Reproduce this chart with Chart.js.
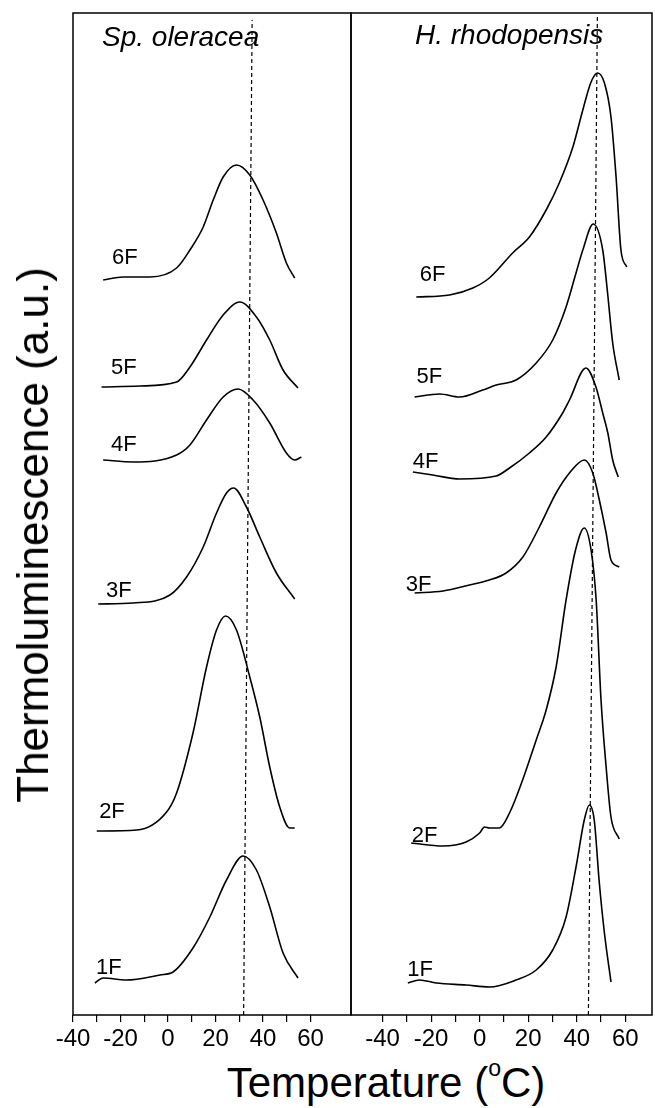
<!DOCTYPE html>
<html>
<head>
<meta charset="utf-8">
<script src="https://cdn.jsdelivr.net/npm/chart.js@4.4.1/dist/chart.umd.min.js"></script>
<style>
  html, body { margin: 0; padding: 0; background: #fff; overflow: hidden; }
  #wrap { position: relative; width: 655px; height: 1108px; }
  canvas { position: absolute; }
  #leftChart { left: 43px; top: 10px; }
  #rightChart { left: 321px; top: 10px; }
  .axis-title { position: absolute; font-family: 'Liberation Sans', Arial, sans-serif; color: #000; white-space: nowrap; }
  .axis-title sup { font-size: 55%; vertical-align: 0.9em; }
  #yTitle { left: 33px; top: 535px; font-size: 44px; transform: translate(-50%, -50%) rotate(-90deg); }
  #xTitle { left: 386px; top: 1081px; font-size: 42px; transform: translate(-50%, -50%); }
</style>
</head>
<body>
<div id="wrap">
  <canvas id="leftChart" width="338" height="1045"></canvas>
  <canvas id="rightChart" width="361" height="1045"></canvas>
  <div id="yTitle" class="axis-title">Thermoluminescence (a.u.)</div>
  <div id="xTitle" class="axis-title">Temperature (<sup>o</sup>C)</div>
</div>
<script>
const FONT = "'Liberation Sans', Arial, sans-serif";
const flashNames = ['1F', '2F', '3F', '4F', '5F', '6F'];

// --- Sp. oleracea (left panel), temperature in °C, intensity in a.u. incl. vertical offset ---
const sp1F_T = [-30.8, -27.3, -17.5, -3.4, 2.1, 10.5, 17.6, 24.6, 31.6, 37.2, 42.8, 48.4, 54.7];
const sp1F_I = [32, 37, 35, 40, 43, 67, 98, 135, 159, 145, 108, 62, 37];
const sp2F_T = [-30, -13.2, -0.6, 3.6, 10.5, 16.2, 20.4, 24.2, 28.8, 34.4, 38.6, 42.8, 47, 51.2, 53.3];
const sp2F_I = [184, 185, 203, 222, 282, 348, 385, 399, 385, 338, 298, 248, 208, 187, 187];
const sp3F_T = [-29.4, -14.7, 0.8, 7.8, 14.8, 20.4, 24.6, 27.6, 33, 38.6, 45.6, 53.3];
const sp3F_I = [411, 412, 420, 438, 468, 502, 522, 527, 508, 478, 442, 416];
const sp4F_T = [-27.3, -14.7, 3.6, 9.2, 16.2, 23.2, 29.5, 35.8, 42.8, 49.8, 53.3, 56.1];
const sp4F_I = [555, 553, 560, 570, 595, 618, 626, 615, 592, 562, 555, 558];
const sp5F_T = [-28, -11.8, 3.6, 9.2, 16.2, 23.2, 30.2, 37.2, 42.8, 48.4, 54.7];
const sp5F_I = [628, 629, 633, 648, 675, 700, 713, 698, 675, 645, 627];
const sp6F_T = [-27.3, -18.9, -7.6, 3.6, 9.2, 14.8, 19, 23.2, 28.8, 34.4, 40, 45.6, 49.8, 53.3];
const sp6F_I = [735, 738, 738, 747, 765, 788, 815, 838, 850, 840, 815, 782, 752, 737];
const spLabelT = [-24.9, -23.6, -20.7, -18.6, -18.6, -18.2];
const spLabelI = [47, 203, 424, 570, 647, 757];
const spRefT = [31.8, 35.4];
const spRefI = [0, 995];

// --- H. rhodopensis (right panel) ---
const hr1F_T = [-29.6, -24.8, -17.9, -5.6, 4, 15, 23.3, 30.1, 35.6, 39.7, 43.1, 45.2, 47.2, 49.3, 51.4, 54.1];
const hr1F_I = [32, 35, 32, 30, 28, 35, 45, 65, 98, 148, 195, 210, 195, 132, 82, 33];
const hr2F_T = [-28.2, -15.2, -5.6, 0, 2, 4, 8.1, 12.3, 17.7, 23.3, 27.4, 31.5, 35.6, 39.5, 43.1, 45.9, 48, 50, 52.1, 54.1, 57.5];
const hr2F_I = [172, 169, 173, 182, 188, 187, 187, 202, 235, 275, 305, 348, 415, 465, 487, 465, 415, 315, 248, 198, 176];
const hr3F_T = [-26.8, -15.1, -4.2, 4, 10.9, 17.8, 24.6, 31.5, 37, 43.1, 46.6, 49.3, 52.1, 54.1, 57.5];
const hr3F_I = [422, 424, 430, 435, 442, 458, 488, 522, 542, 555, 542, 515, 482, 455, 448];
const hr4F_T = [-27.5, -19.3, -8.3, 6.8, 12.3, 20.5, 27.4, 34.2, 37, 43.8, 47.9, 50.7, 52.8, 54.8, 57.1];
const hr4F_I = [543, 540, 536, 539, 547, 562, 578, 602, 615, 647, 628, 602, 582, 555, 538];
const hr5F_T = [-26.8, -16.5, -8.3, 1.3, 6.8, 15, 23.3, 30.1, 35.6, 39.7, 42.5, 46.8, 50.7, 52.7, 54.8, 57.5];
const hr5F_I = [618, 621, 618, 625, 630, 635, 652, 675, 708, 742, 765, 791, 765, 722, 672, 635];
const hr6F_T = [-26.1, -12.4, -2.8, 4, 13.6, 20.5, 27.4, 32.8, 38.4, 42.5, 45.9, 48.6, 51.4, 54.1, 56.2, 58.2, 60.6];
const hr6F_I = [718, 720, 727, 737, 762, 778, 805, 832, 868, 905, 933, 942, 932, 898, 838, 765, 748];
const hrLabelT = [-24.5, -22.7, -25.2, -22.3, -20.7, -19.4];
const hrLabelI = [45, 179, 430, 553, 638, 740];
const hrRefT = [44.8, 48.5];
const hrRefI = [0, 1000];

const toPoints = (t, v) => t.map((x, i) => ({ x: x, y: v[i] }));

function buildDatasets(temps, intens, refT, refI) {
    const sets = temps.map((t, i) => ({
        label: flashNames[i],
        data: toPoints(t, intens[i]),
        borderColor: '#000',
        borderWidth: 1.6,
        cubicInterpolationMode: 'monotone'
    }));
    sets.push({
        label: 'ref',
        data: toPoints(refT, refI),
        borderColor: '#000',
        borderWidth: 1.2,
        borderDash: [4, 3]
    });
    return sets;
}

// frame, italic species name and flash-number labels
const panelDecor = {
    id: 'panelDecor',
    afterDatasetsDraw(chart, args, opts) {
        const { ctx, chartArea: a, scales: { x, y } } = chart;
        ctx.save();
        ctx.strokeStyle = '#000';
        ctx.lineWidth = 1.5;
        ctx.strokeRect(a.left, a.top, a.right - a.left, a.bottom - a.top);
        ctx.fillStyle = '#000';
        ctx.font = 'italic 28px ' + FONT;
        ctx.textBaseline = 'alphabetic';
        ctx.fillText(opts.title, a.left + opts.titleDx, a.top + opts.titleDy);
        ctx.font = '22px ' + FONT;
        ctx.textAlign = 'center';
        ctx.textBaseline = 'middle';
        flashNames.forEach((n, i) => {
            ctx.fillText(n, x.getPixelForValue(opts.labelT[i]), y.getPixelForValue(opts.labelI[i]));
        });
        ctx.restore();
    }
};

function makePanel(id, datasets, xMin, xMax, decor) {
    return new Chart(document.getElementById(id), {
        type: 'line',
        data: { datasets: datasets },
        options: {
            responsive: false,
            animation: false,
            events: [],
            layout: { padding: { left: 30, right: 30, top: 3, bottom: 0 } },
            elements: { point: { radius: 0 } },
            plugins: { legend: { display: false }, tooltip: { enabled: false }, panelDecor: decor },
            scales: {
                x: {
                    type: 'linear',
                    min: xMin,
                    max: xMax,
                    afterBuildTicks: s => { s.ticks = s.ticks.filter(t => t.value % 10 === 0); },
                    afterFit: s => { s.height = 40; },
                    ticks: {
                        stepSize: 10, autoSkip: false, maxRotation: 0, padding: 3, color: '#000',
                        font: { family: FONT, size: 24 },
                        callback: v => (v % 20 === 0 ? v : '')
                    },
                    grid: { drawOnChartArea: false, drawTicks: true, tickLength: 7, color: '#000', lineWidth: 1.2 },
                    border: { display: false }
                },
                y: { display: false, min: 0, max: 1002 }
            }
        },
        plugins: [panelDecor]
    });
}

makePanel('leftChart',
    buildDatasets([sp1F_T, sp2F_T, sp3F_T, sp4F_T, sp5F_T, sp6F_T],
                  [sp1F_I, sp2F_I, sp3F_I, sp4F_I, sp5F_I, sp6F_I], spRefT, spRefI),
    -40, 77,
    { title: 'Sp. oleracea', titleDx: 29, titleDy: 33, labelT: spLabelT, labelI: spLabelI });

makePanel('rightChart',
    buildDatasets([hr1F_T, hr2F_T, hr3F_T, hr4F_T, hr5F_T, hr6F_T],
                  [hr1F_I, hr2F_I, hr3F_I, hr4F_I, hr5F_I, hr6F_I], hrRefT, hrRefI),
    -53, 71,
    { title: 'H. rhodopensis', titleDx: 64, titleDy: 31, labelT: hrLabelT, labelI: hrLabelI });
</script>
</body>
</html>
